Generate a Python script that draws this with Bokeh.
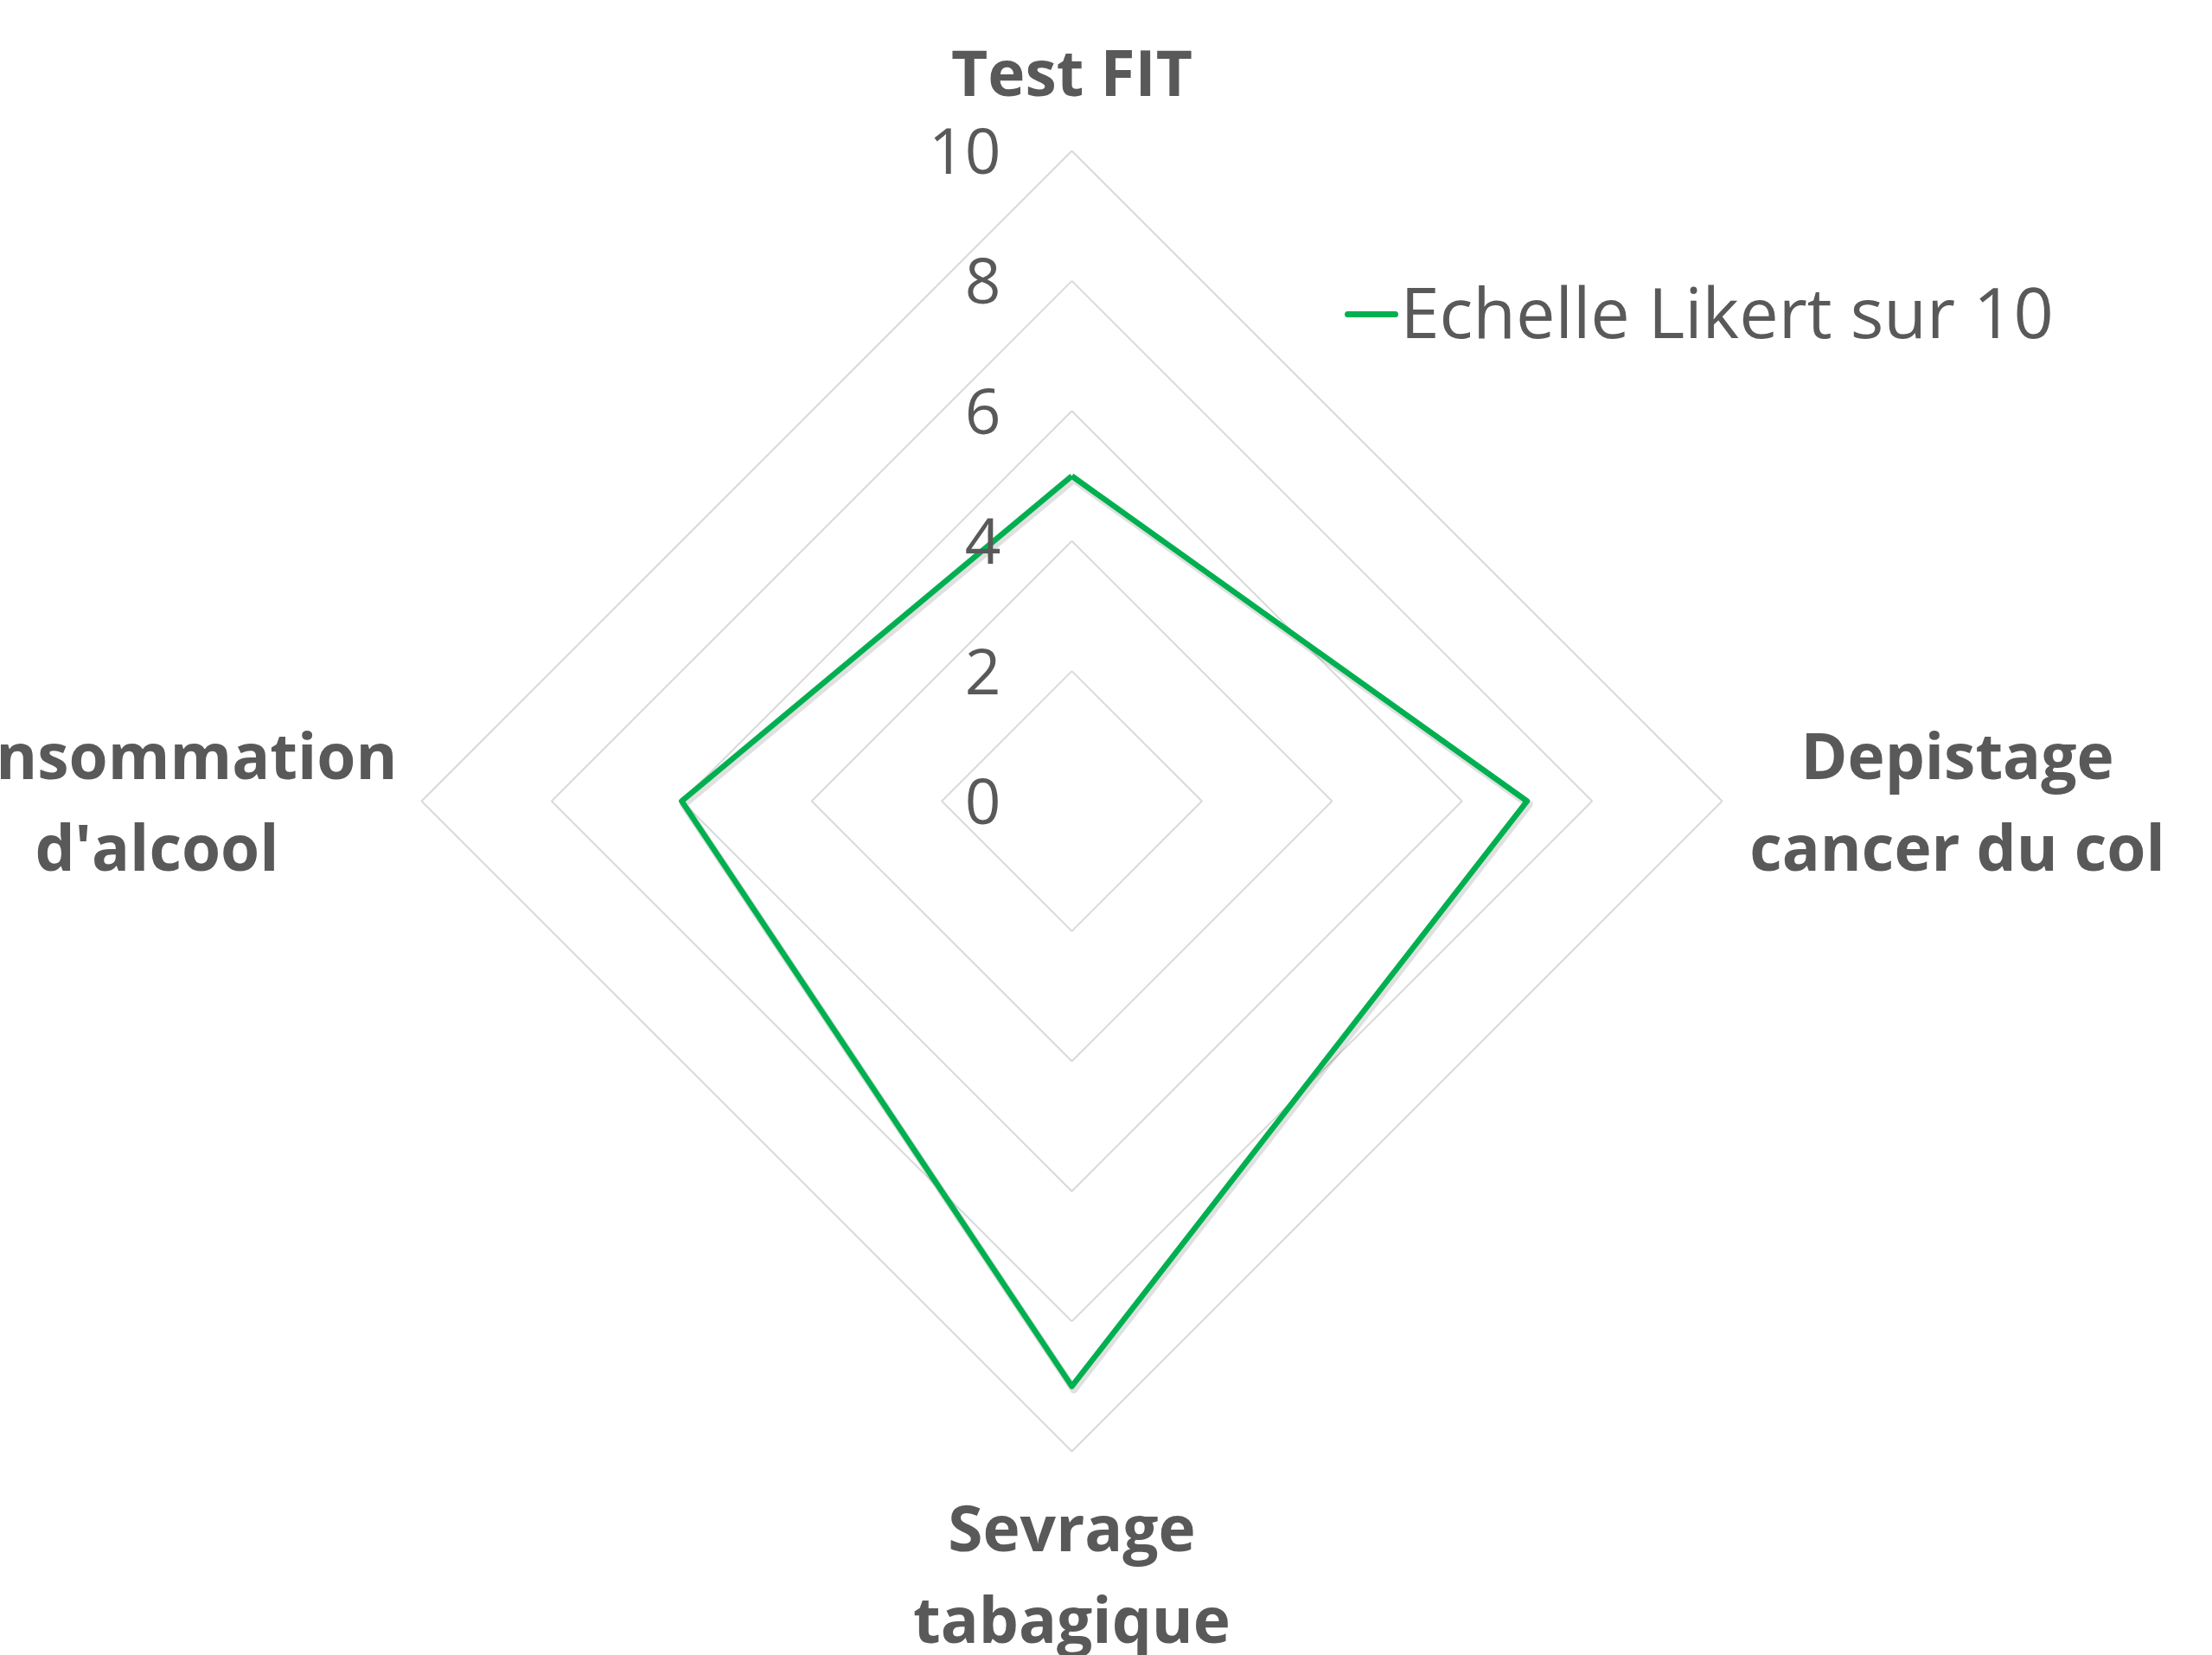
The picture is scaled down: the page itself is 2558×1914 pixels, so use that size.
import numpy as np
from bokeh.plotting import figure
from bokeh.models import Range1d
from bokeh.embed import file_html
from bokeh.resources import INLINE
from bokeh.core.properties import value

# ---- data ----
categories = ["Test FIT", "Depistage\ncancer du col", "Sevrage\ntabagique", "Consommation\nd'alcool"]
values = [5, 7, 9, 6]
series_name = "Echelle Likert sur 10"
tick_values = [0, 2, 4, 6, 8, 10]
tick_labels = ["0", "2", "4", "6", "8", "10"]

# ---- style / layout ----
W, H = 2558, 1914
S = 75.2            # pixels per value unit
CX, CY = 1239, 926  # centre of radar in canvas pixels (from top-left)
TEXT = "#595959"
GRID = "#D9D9D9"
GREEN = "#00B050"
FONT = "Open Sans"

p = figure(width=W, height=H, output_backend="svg", toolbar_location=None,
           x_range=Range1d(-CX / S, (W - CX) / S),
           y_range=Range1d(-(H - CY) / S, CY / S),
           min_border=0, outline_line_color=None)
p.axis.visible = False
p.grid.visible = False
p.background_fill_color = "white"
p.border_fill_color = "white"

n = len(categories)
ang = np.arange(n) * 2 * np.pi / n
ux, uy = np.sin(ang), np.cos(ang)

# grid rings
for t in tick_values:
    if t == 0:
        continue
    xs = list(t * ux) + [t * ux[0]]
    ys = list(t * uy) + [t * uy[0]]
    p.line(xs, ys, line_color=GRID, line_width=2)

# series (with a soft shadow like the original)
vals = np.array(values, dtype=float)
sx = list(vals * ux) + [vals[0] * ux[0]]
sy = list(vals * uy) + [vals[0] * uy[0]]
p.line([x + 0.03 for x in sx], [y - 0.05 for y in sy], line_color="#000000",
       line_alpha=0.12, line_width=9, line_join="round")
p.line(sx, sy, line_color=GREEN, line_width=6.5, line_join="round")

# tick labels (right aligned left of the vertical axis)
p.text(x=[-82 / S] * len(tick_values), y=tick_values, text=tick_labels,
       text_font=value(FONT), text_font_size="73px", text_color=TEXT,
       text_align="right", text_baseline="middle")

# category labels: centre of first text line, in px offsets from the radar centre
label_anchor = [(0, -844), (1024, -54), (0, 839), (-1058, -54)]
LINE = 106
lx, ly, lt = [], [], []
for cat, (ax, ay) in zip(categories, label_anchor):
    for k, line in enumerate(cat.split("\n")):
        lx.append(ax / S)
        ly.append(-(ay + k * LINE) / S)
        lt.append(line)
p.text(x=lx, y=ly, text=lt, text_font=value(FONT), text_font_style="bold",
       text_font_size="73px", text_color=TEXT, text_align="center",
       text_baseline="middle")

# legend
leg_y = -(363 - CY) / S
p.line([(1558 - CX) / S, (1613 - CX) / S], [leg_y, leg_y], line_color=GREEN,
       line_width=7, line_cap="round")
p.text(x=[(1619 - CX) / S], y=[-(359 - CY) / S], text=[series_name],
       text_font=value(FONT), text_font_size="81px", text_color=TEXT,
       text_align="left", text_baseline="middle")

open("out.html", "w").write(file_html(p, INLINE))
